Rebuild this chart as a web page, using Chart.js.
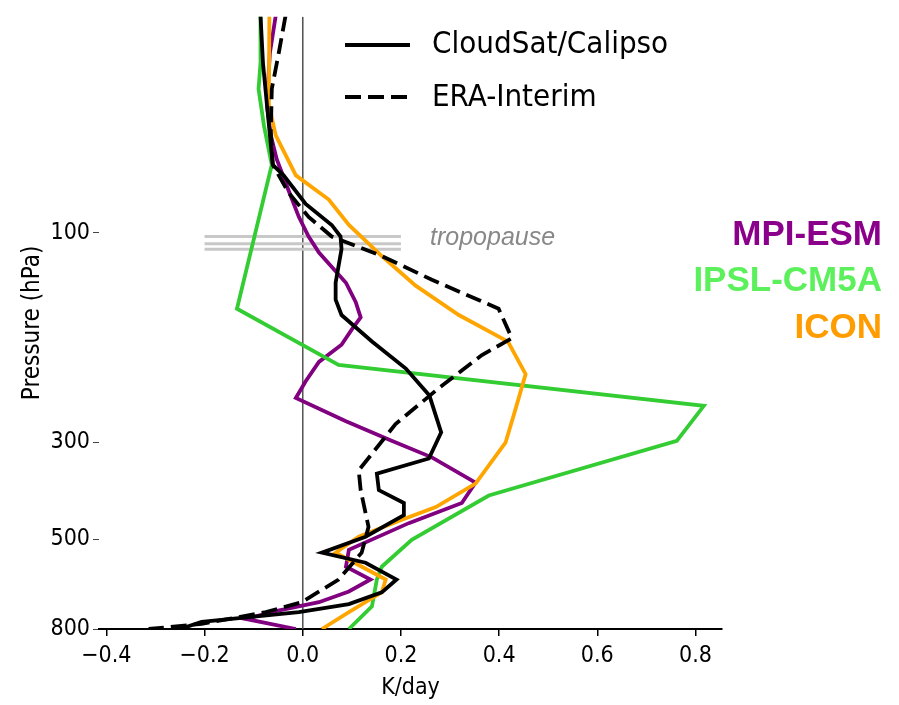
<!DOCTYPE html>
<html>
<head>
<meta charset="utf-8">
<script src="https://cdn.jsdelivr.net/npm/chart.js@4.4.0/dist/chart.umd.min.js"></script>
<style>
html, body { margin: 0; padding: 0; background: #fff; }
#wrap { width: 899px; height: 705px; }
</style>
</head>
<body>
<div id="wrap"><canvas id="chart1" width="899" height="705"></canvas></div>
<script>
// Heating rate profiles: pressure levels (hPa) and heating (K/day) for each source
const obsP = [32, 41, 51, 70, 74, 86, 96, 102, 109, 130, 142, 154, 177, 204, 235, 285, 327, 354, 386, 413, 440, 493, 536, 565, 617, 660, 702, 732, 771, 800];
const obsK = [-0.086, -0.081, -0.073, -0.061, -0.039, 0.006, 0.059, 0.077, 0.079, 0.067, 0.067, 0.079, 0.141, 0.210, 0.258, 0.282, 0.257, 0.151, 0.155, 0.206, 0.206, 0.128, 0.039, 0.128, 0.191, 0.161, 0.094, -0.008, -0.206, -0.25];

const eraP = [32, 39, 47, 59, 70, 81, 92, 102, 113, 128, 149, 174, 190, 226, 273, 348, 386, 468, 536, 617, 695, 732, 779, 800];
const eraK = [-0.035, -0.049, -0.063, -0.065, -0.061, -0.029, 0.012, 0.059, 0.161, 0.263, 0.399, 0.426, 0.365, 0.277, 0.189, 0.114, 0.118, 0.134, 0.120, 0.073, -0.002, -0.075, -0.206, -0.314];

const mpiP = [32, 39, 51, 60, 68, 80, 92, 102, 111, 130, 144, 156, 166, 180, 197, 218, 238, 269, 298, 325, 371, 413, 459, 528, 577, 617, 657, 695, 728, 759, 800];
const mpiK = [-0.055, -0.067, -0.073, -0.065, -0.053, -0.029, -0.008, 0.012, 0.033, 0.088, 0.108, 0.118, 0.100, 0.079, 0.033, 0.006, -0.014, 0.088, 0.181, 0.263, 0.352, 0.324, 0.216, 0.094, 0.088, 0.138, 0.094, 0.033, -0.055, -0.116, -0.014];

const ipslP = [32, 41, 47, 57, 70, 149, 200, 248, 298, 397, 501, 577, 617, 710, 800];
const ipslK = [-0.086, -0.086, -0.090, -0.079, -0.063, -0.134, 0.073, 0.817, 0.762, 0.379, 0.222, 0.161, 0.151, 0.141, 0.094];

const iconP = [32, 51, 60, 74, 84, 96, 113, 132, 154, 177, 210, 251, 301, 373, 422, 451, 493, 536, 617, 660, 732, 800];
const iconK = [-0.068, -0.069, -0.055, -0.014, 0.053, 0.094, 0.161, 0.230, 0.318, 0.418, 0.454, 0.434, 0.413, 0.352, 0.271, 0.202, 0.114, 0.067, 0.169, 0.161, 0.094, 0.039];

// tropopause band and zero line
const tropP = [102, 106, 109];
const tropK = [-0.2, 0.2];

const xTicks = [-0.4, -0.2, 0.0, 0.2, 0.4, 0.6, 0.8];
const yTicks = [100, 300, 500, 800];
const pTop = 32.2;
const pBottom = 800;

const cond = "'DejaVu Sans Condensed', 'DejaVu Sans', sans-serif";

function toPoints(p, k) {
    return k.map((v, i) => ({x: v, y: p[i]}));
}

function profile(label, p, k, color, dash, order) {
    return {
        label: label,
        data: toPoints(p, k),
        showLine: true,
        fill: false,
        borderColor: color,
        borderWidth: 3.8,
        borderDash: dash,
        pointRadius: 0,
        order: order
    };
}

let datasets = [];
// thin zero line
datasets.push({data: [{x: 0, y: pTop}, {x: 0, y: pBottom}], showLine: true, borderColor: '#555', borderWidth: 1, pointRadius: 0, order: 10});
// tropopause lines
tropP.forEach((p) => {
    datasets.push({data: [{x: tropK[0], y: p}, {x: tropK[1], y: p}], showLine: true, borderColor: '#c8c8c8', borderWidth: 3, pointRadius: 0, order: 9});
});
datasets.push(profile('MPI-ESM', mpiP, mpiK, '#800080', [], 5));
datasets.push(profile('IPSL-CM5A', ipslP, ipslK, '#33cc33', [], 4));
datasets.push(profile('ICON', iconP, iconK, '#ffa500', [], 3));
datasets.push(profile('ERA-Interim', eraP, eraK, '#000', [16, 7], 2));
datasets.push(profile('CloudSat/Calipso', obsP, obsK, '#000', [], 1));

// Text labels: legend, tropopause note and model names
const textPlugin = {
    id: 'texts',
    afterDraw(chart) {
        const c = chart.ctx;
        c.save();
        c.strokeStyle = '#000';
        c.lineWidth = 3.8;
        c.beginPath();
        c.moveTo(345, 45);
        c.lineTo(410, 45);
        c.stroke();
        c.setLineDash([16, 7]);
        c.beginPath();
        c.moveTo(345, 97);
        c.lineTo(410, 97);
        c.stroke();
        c.setLineDash([]);

        c.fillStyle = '#000';
        c.textBaseline = 'middle';
        c.textAlign = 'left';
        c.font = "31px " + cond;
        c.fillText('CloudSat/Calipso', 432, 45);
        c.fillText('ERA-Interim', 432, 98);

        c.fillStyle = '#888';
        c.font = "italic 25px 'Liberation Sans', Arial, sans-serif";
        c.textBaseline = 'alphabetic';
        c.fillText('tropopause', 430, 245);

        c.textAlign = 'right';
        c.font = "bold 35px 'Liberation Sans', Arial, sans-serif";
        c.fillStyle = '#8b008b';
        c.fillText('MPI-ESM', 882, 245);
        c.fillStyle = '#5cf05c';
        c.fillText('IPSL-CM5A', 882, 291);
        c.fillStyle = '#ff9c00';
        c.fillText('ICON', 882, 338);
        c.restore();
    }
};

let ctx1 = document.getElementById('chart1').getContext('2d');
let chart1 = new Chart(ctx1, {
    type: 'scatter',
    data: {datasets: datasets},
    options: {
        responsive: false,
        animation: false,
        layout: {padding: {left: 0, right: 177, top: 11, bottom: 0}},
        plugins: {
            legend: {display: false},
            tooltip: {enabled: false}
        },
        scales: {
            x: {
                type: 'linear',
                min: -0.415,
                max: 0.854,
                border: {display: true, color: '#000', width: 2},
                grid: {drawOnChartArea: false, drawTicks: true, tickLength: 7, color: '#000', lineWidth: 1.5},
                afterBuildTicks: (s) => { s.ticks = xTicks.map((v) => ({value: v})); },
                ticks: {
                    autoSkip: false,
                    maxRotation: 0,
                    color: '#000',
                    padding: 6,
                    font: {family: cond, size: 23},
                    callback: (v) => Number(v).toFixed(1).replace('-', '\u2212')
                },
                title: {display: true, text: 'K/day', color: '#000', font: {family: cond, size: 23}, padding: {top: 0, bottom: 3}},
                afterFit: (s) => { s.height = 76; }
            },
            y: {
                type: 'logarithmic',
                reverse: true,
                min: pTop,
                max: pBottom,
                border: {display: false},
                grid: {drawOnChartArea: false, drawTicks: true, tickLength: 6, color: '#444', lineWidth: 1},
                afterBuildTicks: (s) => { s.ticks = yTicks.map((v) => ({value: v})); },
                ticks: {
                    autoSkip: false,
                    color: '#000',
                    padding: 3,
                    font: {family: cond, size: 23},
                    callback: (v) => String(v)
                },
                title: {display: true, text: 'Pressure (hPa)', color: '#000', font: {family: cond, size: 24}, padding: {top: 18, bottom: 0}},
                afterFit: (s) => { s.width = 99; }
            }
        }
    },
    plugins: [textPlugin]
});
</script>
</body>
</html>
